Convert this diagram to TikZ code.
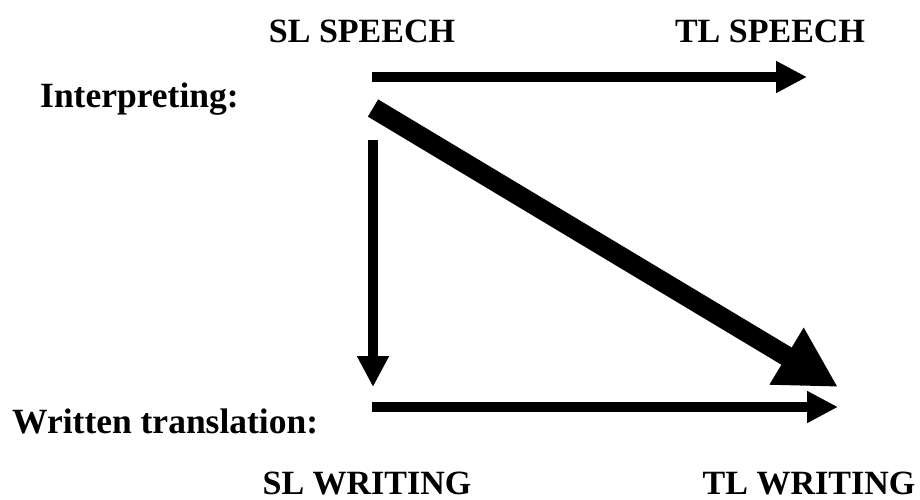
\documentclass[tikz,border=0pt]{standalone}
\usepackage{fontspec}
\setmainfont{Liberation Serif}
\usepackage{tikz}
\usetikzlibrary{arrows.meta,positioning}
\definecolor{ink}{HTML}{000000}
\tikzset{
  mode/.style={font=\bfseries\fontsize{35.5}{40}\selectfont,text=ink,inner sep=0pt},
  pole/.style={font=\bfseries\fontsize{34}{38}\selectfont,text=ink,inner sep=0pt,anchor=base},
  flow/.style={-{Triangle[length=31pt,width=30pt]},draw=ink,line width=10pt},
  bigflow/.style={-{Triangle[length=60pt,width=62pt]},draw=ink,line width=20pt}
}
\begin{document}
\begin{tikzpicture}[x=1pt,y=-1pt]
  \useasboundingbox (0,0) rectangle (920,500);
  \node[pole] (slspeech) at (362,43) {SL SPEECH};
  \node[pole] (tlspeech) at (770,43) {TL SPEECH};
  \node[mode,anchor=base west] (interp) at (40,108) {Interpreting:};
  \node[mode,anchor=base west] (written) at (12,433) {Written translation:};
  \node[pole] (slwriting) at (367,494) {SL WRITING};
  \node[pole] (tlwriting) at (809,494) {TL WRITING};
  % arrow ends
  \coordinate (sp0) at (372,77);  \coordinate (sp1) at (807,77);
  \coordinate (dg0) at (373,108); \coordinate (dg1) at (838,387);
  \coordinate (vt0) at (373,140); \coordinate (vt1) at (373,387);
  \coordinate (wr0) at (372,407); \coordinate (wr1) at (838,407);
  \draw[flow] (sp0)--(sp1);
  \draw[bigflow] (dg0)--(dg1);
  \draw[flow] (vt0)--(vt1);
  \draw[flow] (wr0)--(wr1);
\end{tikzpicture}
\end{document}
